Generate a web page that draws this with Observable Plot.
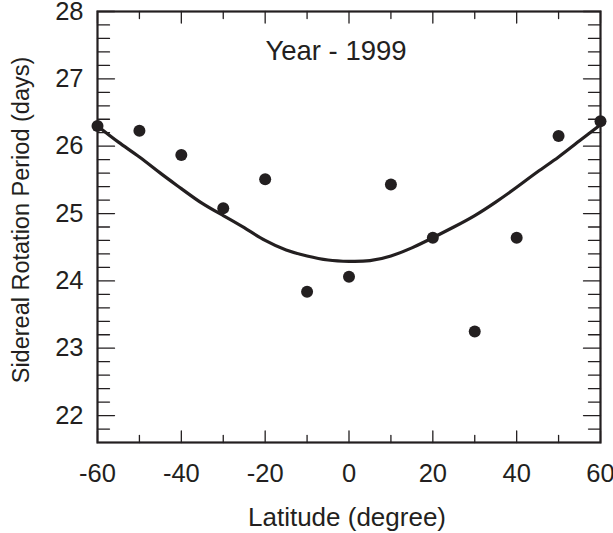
<!DOCTYPE html>
<html>
<head>
<meta charset="utf-8">
<script src="https://cdn.jsdelivr.net/npm/d3@7"></script>
<script src="https://cdn.jsdelivr.net/npm/@observablehq/plot@0.6"></script>
<style>
  html, body { margin: 0; padding: 0; background: #fff; }
  #chart svg { display: block; }
</style>
</head>
<body>
<div id="chart"></div>
<script>
// Observed sidereal rotation periods
const latitude = [-60, -50, -40, -30, -20, -10, 0, 10, 20, 30, 40, 50, 60];
const period = [26.30, 26.23, 25.87, 25.08, 25.51, 23.84, 24.06, 25.43, 24.64, 23.25, 24.64, 26.15, 26.37];

// Fitted curve
const fitLatitude = [-60, -55, -50, -45, -40, -35, -30, -25, -20, -15, -10, -5, 0, 5, 10, 15, 20, 25, 30, 35, 40, 45, 50, 55, 60];
const fitPeriod = [26.30, 26.06, 25.84, 25.60, 25.37, 25.15, 24.97, 24.79, 24.60, 24.46, 24.37, 24.31, 24.29, 24.30, 24.37, 24.49, 24.64, 24.80, 24.97, 25.17, 25.39, 25.62, 25.84, 26.08, 26.32];

// Tick values
const xMajorTicks = [-60, -40, -20, 0, 20, 40, 60];
const xMinorTicks = [-50, -30, -10, 10, 30, 50];
const yMajorTicks = [22, 23, 24, 25, 26, 27, 28];
const yMinorTicks = d3.range(109, 140).filter(i => i % 5 !== 0).map(i => i / 5);

// Texts
const titleText = ["Year - 1999"];
const xLabel = ["Latitude (degree)"];
const yLabel = ["Sidereal Rotation Period (days)"];

const ink = "#231f20";
const font = "'Liberation Sans', Arial, Helvetica, sans-serif";

const tickShape = {
  draw(context, l) { context.moveTo(0, 0); context.lineTo(0, -l); }
};
function tickMarks(values, side, len) {
  const opts = {length: len, shape: tickShape, anchor: "start", frameAnchor: side, stroke: ink, strokeWidth: 1.3};
  if (side === "bottom") return Plot.vector(values, {...opts, x: d => d, rotate: 0});
  if (side === "top") return Plot.vector(values, {...opts, x: d => d, rotate: 180});
  if (side === "left") return Plot.vector(values, {...opts, y: d => d, rotate: 90});
  return Plot.vector(values, {...opts, y: d => d, rotate: -90});
}

const points = latitude.map((x, i) => ({x, y: period[i]}));
const fit = fitLatitude.map((x, i) => ({x, y: fitPeriod[i]}));

const chart = Plot.plot({
  width: 613,
  height: 533,
  marginLeft: 97,
  marginRight: 13,
  marginTop: 11,
  marginBottom: 91,
  style: {fontFamily: font, color: ink, background: "#fff", overflow: "visible"},
  x: {domain: [-60, 60]},
  y: {domain: [21.6, 28]},
  marks: [
    tickMarks(xMajorTicks, "bottom", 11.5),
    tickMarks(xMinorTicks, "bottom", 7),
    tickMarks(xMajorTicks, "top", 11.5),
    tickMarks(xMinorTicks, "top", 7),
    tickMarks(yMajorTicks, "left", 17),
    tickMarks(yMinorTicks, "left", 12),
    tickMarks(yMajorTicks, "right", 17),
    tickMarks(yMinorTicks, "right", 12),
    Plot.axisX(xMajorTicks, {anchor: "bottom", tickSize: 0, tickPadding: 21, fontSize: 25.5, tickFormat: d => String(d), label: null, fill: ink}),
    Plot.axisY(yMajorTicks, {anchor: "left", tickSize: 0, tickPadding: 14, fontSize: 25.5, tickFormat: d => String(d), label: null, fill: ink}),
    Plot.line(fit, {x: "x", y: "y", curve: "natural", stroke: ink, strokeWidth: 3.2}),
    Plot.dot(points, {x: "x", y: "y", r: 6, fill: ink, stroke: "none"}),
    Plot.frame({stroke: ink, strokeWidth: 2.2}),
    Plot.text(titleText, {frameAnchor: "top", dx: -13, dy: 48, lineAnchor: "bottom", textAnchor: "middle", fontSize: 27.5, fill: ink}),
    Plot.text(xLabel, {frameAnchor: "bottom", dx: -2, dy: 83, lineAnchor: "bottom", textAnchor: "middle", fontSize: 26, fill: ink}),
    Plot.text(yLabel, {frameAnchor: "left", dx: -76, dy: -7, rotate: -90, lineAnchor: "middle", textAnchor: "middle", fontSize: 23.5, fill: ink})
  ]
});
document.getElementById("chart").appendChild(chart);
</script>
</body>
</html>
